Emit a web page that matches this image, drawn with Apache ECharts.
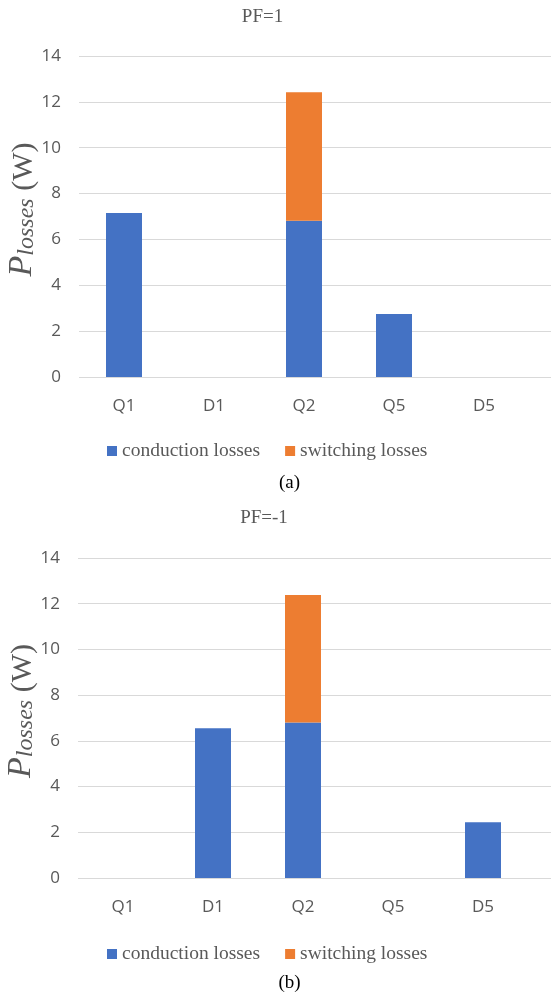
<!DOCTYPE html>
<html>
<head>
<meta charset="utf-8">
<script src="https://cdn.jsdelivr.net/npm/echarts@6/dist/echarts.min.js"></script>
<style>
  html, body { margin: 0; padding: 0; background: #fff; }
  #chart { width: 551px; height: 996px; }
</style>
</head>
<body>
<div id="chart"></div>
<script>
// Device loss breakdown, PF = 1 and PF = -1
const categories = ['Q1', 'D1', 'Q2', 'Q5', 'D5'];
const conductionPF1 = [7.15, 0, 6.82, 2.75, 0];
const switchingPF1 = [0, 0, 5.6, 0, 0];
const conductionPFm1 = [0, 6.55, 6.8, 0, 2.44];
const switchingPFm1 = [0, 0, 5.58, 0, 0];
const yMin = 0, yMax = 14, yStep = 2;
const seriesNames = ['conduction losses', 'switching losses'];

const BLUE = '#4472C4', ORANGE = '#ED7D31', GRAY = '#595959', GRID = '#d9d9d9';
const SANS = 'Open Sans', SERIF = 'Liberation Serif';

const panels = [
  { top: 56, height: 321, left: 79, cond: conductionPF1, sw: switchingPF1 },
  { top: 558, height: 320, left: 78, cond: conductionPFm1, sw: switchingPFm1 }
];

const grid = [], xAxis = [], yAxis = [], series = [];
panels.forEach((p, i) => {
  // plot area for the bars
  grid.push({ left: p.left, top: p.top, width: 450, height: p.height, containLabel: false, outerBoundsMode: 'none' });
  // wider area carrying the horizontal gridlines
  grid.push({ left: p.left, top: p.top, width: 551 - p.left, height: p.height, containLabel: false, outerBoundsMode: 'none' });
  const gBars = i * 2, gLines = i * 2 + 1;

  xAxis.push({
    type: 'category', gridIndex: gBars, data: categories,
    axisLine: { show: false }, axisTick: { show: false },
    axisLabel: { color: GRAY, fontFamily: SANS, fontSize: 17, margin: 21 }
  });
  xAxis.push({ type: 'value', gridIndex: gLines, min: 0, max: 1, show: false });

  yAxis.push({
    type: 'value', gridIndex: gBars, min: yMin, max: yMax, interval: yStep,
    splitLine: { show: false }, axisLine: { show: false }, axisTick: { show: false },
    axisLabel: { color: GRAY, fontFamily: SANS, fontSize: 17, margin: 18 },
    name: '{p|P}{s|losses}{w| (W)}',
    nameLocation: 'middle', nameRotate: 90, nameGap: 40, nameMoveOverlap: false,
    nameTextStyle: {
      rich: {
        p: { fontFamily: SERIF, fontStyle: 'italic', fontSize: 34, color: GRAY, verticalAlign: 'bottom', lineHeight: 36, padding: [0, 0, 0, 14] },
        s: { fontFamily: SERIF, fontStyle: 'italic', fontSize: 24, color: GRAY, verticalAlign: 'bottom', lineHeight: 36 },
        w: { fontFamily: SERIF, fontSize: 30, color: GRAY, verticalAlign: 'bottom', lineHeight: 36 }
      }
    }
  });
  yAxis.push({
    type: 'value', gridIndex: gLines, min: yMin, max: yMax, interval: yStep,
    axisLabel: { show: false }, axisLine: { show: false }, axisTick: { show: false },
    splitLine: { show: true, lineStyle: { color: GRID, width: 1 } }
  });

  series.push({
    name: seriesNames[0], type: 'bar', stack: 'loss' + i,
    xAxisIndex: gBars, yAxisIndex: gBars, data: p.cond,
    barWidth: 36, itemStyle: { color: BLUE }, z: 3
  });
  series.push({
    name: seriesNames[1], type: 'bar', stack: 'loss' + i,
    xAxisIndex: gBars, yAxisIndex: gBars, data: p.sw,
    barWidth: 36, itemStyle: { color: ORANGE }, z: 3
  });
});

const legendBase = {
  data: seriesNames, icon: 'rect', itemWidth: 10, itemHeight: 10, itemGap: 25, padding: 0,
  textStyle: { color: GRAY, fontFamily: SERIF, fontSize: 19.5, lineHeight: 20 },
  selectedMode: false
};

const textEl = (x, y, text, color) => ({
  type: 'text', x: x, y: y,
  style: { text: text, fill: color, font: '19px "Liberation Serif"', align: 'center', verticalAlign: 'middle' }
});

const chart = echarts.init(document.getElementById('chart'), null, { renderer: 'canvas' });
chart.setOption({
  backgroundColor: '#fff',
  animation: false,
  grid: grid, xAxis: xAxis, yAxis: yAxis, series: series,
  legend: [
    Object.assign({ left: 107, top: 441 }, legendBase),
    Object.assign({ left: 107, top: 944 }, legendBase)
  ],
  graphic: [
    textEl(262.5, 17, 'PF=1', GRAY),
    textEl(264, 518, 'PF=-1', GRAY),
    textEl(289.5, 483, '(a)', '#000'),
    textEl(289.5, 983, '(b)', '#000')
  ]
});
</script>
</body>
</html>
